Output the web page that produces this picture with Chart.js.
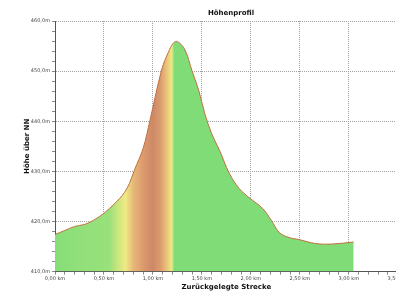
<!DOCTYPE html>
<html>
<head>
<meta charset="utf-8">
<script src="https://cdn.jsdelivr.net/npm/chart.js@4"></script>
<style>
  html, body { margin: 0; padding: 0; background: #fff; overflow: hidden; }
  #wrap { width: 409px; height: 291px; }
</style>
</head>
<body>
<div id="wrap"><canvas id="graph" width="409" height="291"></canvas></div>
<script>
// distance (km) and elevation (m)
const strecke = [0, 0.1, 0.2, 0.3, 0.39, 0.51, 0.6, 0.66, 0.71, 0.76, 0.81, 0.9, 0.97, 1.08, 1.14, 1.23, 1.32, 1.4, 1.47, 1.53, 1.6, 1.68, 1.78, 1.88, 1.98, 2.12, 2.21, 2.29, 2.39, 2.49, 2.66, 2.83, 3.05];
const hoehe = [417.4, 418.2, 419.0, 419.4, 420.2, 421.8, 423.4, 424.6, 425.8, 427.6, 430.2, 434.6, 440.2, 449.6, 453.0, 455.9, 454.5, 450.0, 446.0, 441.5, 437.5, 434.2, 429.6, 426.6, 424.8, 422.6, 420.2, 417.8, 416.8, 416.4, 415.6, 415.5, 415.9];

// slope colouring along the track
const farbKm = [0, 0.3, 0.55, 0.64, 0.72, 0.8, 0.9, 1.0, 1.08, 1.14, 1.19, 1.22, 3.5];
const farben = ["#86de78", "#93e07b", "#98e07a", "#c8e67e", "#f0ea84", "#e6b878", "#dc9a6e", "#cd8866", "#dc9c6e", "#e8c47a", "#f0e884", "#80dc76", "#80dc76"];

const punkte = strecke.map((km, i) => ({ x: km, y: hoehe[i] }));

function fuellung(context) {
    const chart = context.chart;
    const area = chart.chartArea;
    if (!area) return "#86de78";
    const xs = chart.scales.x;
    const g = chart.ctx.createLinearGradient(area.left, 0, area.right, 0);
    const w = area.right - area.left;
    farbKm.forEach((km, i) => {
        let p = (xs.getPixelForValue(km) - area.left) / w;
        p = Math.min(1, Math.max(0, p));
        g.addColorStop(p, farben[i]);
    });
    return g;
}

const isMajor = (v, step) => Math.abs(v / step - Math.round(v / step)) < 1e-6;

const titelPlugin = {
    id: "titel",
    afterDraw(chart) {
        const ctx = chart.ctx;
        ctx.save();
        ctx.font = "bold 7px 'DejaVu Sans'";
        ctx.fillStyle = "#111";
        ctx.textAlign = "center";
        ctx.textBaseline = "middle";
        ctx.fillText("Höhenprofil", 231, 13);
        ctx.restore();
    }
};

const graph = document.getElementById("graph");
const ctx = graph.getContext("2d");

const myChart = new Chart(ctx, {
    type: "line",
    data: {
        datasets: [{
            data: punkte,
            borderColor: "#c0703f",
            borderWidth: 1,
            backgroundColor: fuellung,
            fill: "start",
            pointRadius: 0,
            tension: 0.35
        }]
    },
    plugins: [titelPlugin],
    options: {
        responsive: false,
        animation: false,
        layout: { padding: { top: 21, right: 5, left: 23, bottom: 0 } },
        plugins: {
            legend: { display: false },
            tooltip: { enabled: false },
            title: { display: false }
        },
        scales: {
            x: {
                type: "linear",
                min: 0,
                max: 3.5,
                ticks: {
                    stepSize: 0.1,
                    autoSkip: false,
                    maxRotation: 0,
                    padding: 1,
                    color: "#444",
                    font: { size: 5, family: "'DejaVu Sans'" },
                    callback: v => isMajor(v, 0.5) ? v.toFixed(2).replace(".", ",") + " km" : ""
                },
                grid: {
                    color: c => (c.tick && isMajor(c.tick.value, 0.5)) ? "#a0a0a0" : "rgba(0,0,0,0)",
                    tickColor: "#888",
                    tickLength: 3,
                    lineWidth: 1
                },
                border: { color: "#555", dash: [1, 1] },
                title: {
                    display: true,
                    text: "Zurückgelegte Strecke",
                    color: "#111",
                    padding: 0,
                    font: { size: 7, weight: "bold", family: "'DejaVu Sans'" }
                }
            },
            y: {
                min: 410,
                max: 460,
                ticks: {
                    stepSize: 2,
                    autoSkip: false,
                    padding: 2,
                    color: "#444",
                    font: { size: 5, family: "'DejaVu Sans'" },
                    callback: v => isMajor(v, 10) ? v.toFixed(1).replace(".", ",") + "m" : ""
                },
                grid: {
                    color: c => (c.tick && isMajor(c.tick.value, 10)) ? "#a0a0a0" : "rgba(0,0,0,0)",
                    tickColor: "#888",
                    tickLength: 3,
                    lineWidth: 1
                },
                border: { color: "#555", dash: [1, 1] },
                title: {
                    display: true,
                    text: "Höhe über NN",
                    color: "#111",
                    padding: { top: 0, bottom: 2 },
                    font: { size: 7, weight: "bold", family: "'DejaVu Sans'" }
                },
                afterFit: s => { s.width = 32; }
            }
        }
    }
});
</script>
</body>
</html>
